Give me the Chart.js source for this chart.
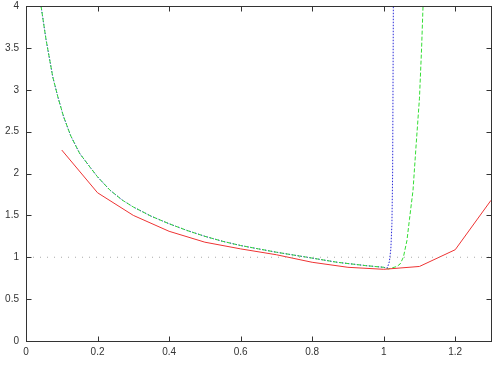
<!DOCTYPE html>
<html>
<head>
<meta charset="utf-8">
<script src="https://cdn.jsdelivr.net/npm/chart.js@4/dist/chart.umd.min.js"></script>
<style>
  body { margin: 0; background: #fff; }
  canvas { display: block; }
</style>
</head>
<body>
<canvas id="chart" width="501" height="379"></canvas>
<script>
// measured series (red, solid)
var redX = [0.1, 0.2, 0.3, 0.4, 0.5, 0.6, 0.7, 0.8, 0.9, 1.0, 1.1, 1.2, 1.3];
var redY = [2.28, 1.77, 1.50, 1.31, 1.18, 1.10, 1.03, 0.94, 0.88, 0.856, 0.89, 1.09, 1.68];

// common left branch of the blue and green curves
var curveX = [0.042, 0.056, 0.075, 0.09, 0.105, 0.125, 0.15, 0.18, 0.2, 0.235, 0.27, 0.3, 0.35, 0.4, 0.45, 0.5, 0.55, 0.6, 0.65, 0.7, 0.8, 0.87, 0.95, 1.0];
var curveY = [4.0, 3.6, 3.15, 2.9, 2.68, 2.45, 2.24, 2.07, 1.96, 1.80, 1.68, 1.60, 1.49, 1.40, 1.32, 1.25, 1.19, 1.14, 1.10, 1.06, 0.99, 0.94, 0.90, 0.88];

// right branches
var blueTailX = [1.01, 1.016, 1.02, 1.023, 1.025, 1.026, 1.027];
var blueTailY = [0.87, 0.95, 1.1, 1.4, 2.0, 3.0, 4.0];
var greenTailX = [1.013, 1.037, 1.046, 1.055, 1.065, 1.072, 1.082, 1.09, 1.1, 1.106, 1.11];
var greenTailY = [0.86, 0.89, 0.92, 1.0, 1.2, 1.45, 1.8, 2.3, 2.9, 3.5, 4.0];

// dotted reference line
var refX = [0, 1.3];
var refY = [1, 1];

var xTicks = [0, 0.2, 0.4, 0.6, 0.8, 1, 1.2];
var yTicks = [0, 0.5, 1, 1.5, 2, 2.5, 3, 3.5, 4];

function pts(xs, ys) {
  return xs.map(function (x, i) { return {x: x, y: ys[i]}; });
}

var blueData = pts(curveX.concat(blueTailX), curveY.concat(blueTailY));
var greenData = pts(curveX.concat(greenTailX), curveY.concat(greenTailY));

// box round the plot with tick marks pointing inward
var frame = {
  id: 'frame',
  afterDraw: function (chart) {
    var ctx = chart.ctx, a = chart.chartArea;
    var sx = chart.scales.x, sy = chart.scales.y;
    var len = 5;
    var l = Math.round(a.left) + 0.5, r = Math.round(a.right) + 0.5;
    var t = Math.round(a.top) + 0.5, b = Math.round(a.bottom) + 0.5;
    ctx.save();
    ctx.strokeStyle = '#333';
    ctx.lineWidth = 1;
    ctx.strokeRect(l, t, r - l, b - t);
    ctx.beginPath();
    xTicks.forEach(function (v) {
      var px = Math.round(sx.getPixelForValue(v)) + 0.5;
      ctx.moveTo(px, b); ctx.lineTo(px, b - len);
      ctx.moveTo(px, t); ctx.lineTo(px, t + len);
    });
    yTicks.forEach(function (v) {
      var py = Math.round(sy.getPixelForValue(v)) + 0.5;
      ctx.moveTo(l, py); ctx.lineTo(l + len, py);
      ctx.moveTo(r, py); ctx.lineTo(r - len, py);
    });
    ctx.stroke();
    ctx.restore();
  }
};

new Chart('chart', {
  type: 'line',
  data: {
    datasets: [
      {data: pts(refX, refY), borderColor: '#aaa', borderWidth: 1, borderDash: [1, 6]},
      {data: pts(redX, redY), borderColor: '#e33', borderWidth: 1},
      {data: greenData, borderColor: '#3d3', borderWidth: 1, borderDash: [4, 2]},
      {data: blueData, borderColor: '#2828d8', borderWidth: 1, borderDash: [1.5, 1.5]}
    ]
  },
  options: {
    responsive: false,
    animation: false,
    devicePixelRatio: 1,
    elements: {point: {radius: 0}, line: {tension: 0}},
    layout: {padding: {top: 0, right: 10, left: 0, bottom: 0}},
    plugins: {legend: {display: false}, tooltip: {enabled: false}},
    scales: {
      x: {
        type: 'linear', min: 0, max: 1.3,
        grid: {display: false, drawTicks: false}, border: {display: false},
        afterBuildTicks: function (s) { s.ticks = xTicks.map(function (v) { return {value: v}; }); },
        afterFit: function (s) { s.height = 38; },
        ticks: {padding: 5, color: '#333', font: {family: 'Liberation Sans', size: 10},
                maxRotation: 0, callback: function (v) { return String(v); }}
      },
      y: {
        type: 'linear', min: 0, max: 4,
        grid: {display: false, drawTicks: false}, border: {display: false},
        afterBuildTicks: function (s) { s.ticks = yTicks.map(function (v) { return {value: v}; }); },
        afterFit: function (s) { s.width = 26; s.paddingTop = 6; s.paddingBottom = 0; },
        ticks: {padding: 7, color: '#333', font: {family: 'Liberation Sans', size: 10},
                callback: function (v) { return String(v); }}
      }
    }
  },
  plugins: [frame]
});
</script>
</body>
</html>
